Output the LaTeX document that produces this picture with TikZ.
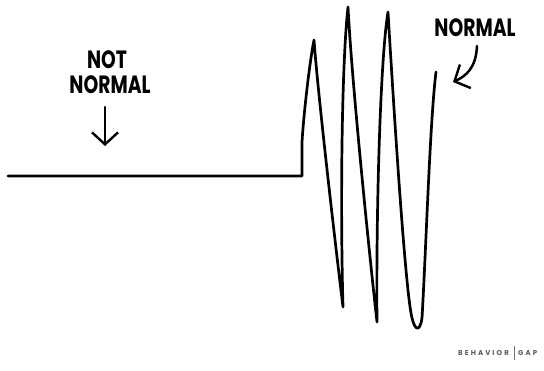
\documentclass[tikz,border=0pt]{standalone}
\usepackage{fontspec}
\setmainfont{Poppins}
\usetikzlibrary{arrows.meta}
\tikzset{
  ink/.style={line width=2.7pt, line cap=round, line join=round, black},
  hand/.style={font=\bfseries\fontsize{25}{25}\selectfont, inner sep=0pt, align=center},
  pen/.style={line width=2.5pt, line cap=round, line join=round, black,
    -{Straight Barb[length=12pt,width=26pt,line width=2.4pt]}},
  credit/.style={font=\bfseries\fontsize{7}{8}\selectfont\addfontfeature{LetterSpace=30}, text=black!65, inner sep=0pt}
}
\begin{document}
\begin{tikzpicture}[x=1pt,y=-1pt]
\useasboundingbox[fill=white] (0,0) rectangle (544,370);
% labels
\node[hand] (not) at (107,60) {\scalebox{0.75}[1]{NOT}};
\node[hand] (notnormal) at (110,85) {\scalebox{0.75}[1]{NORMAL}};
\coordinate (a1s) at (105,107);
\coordinate (a1e) at (105,146);
\draw[pen] (a1s) -- (a1e);
\node[hand] (normal) at (475,28) {\scalebox{0.75}[1]{NORMAL}};
\coordinate (a2s) at (477,46);
\coordinate (a2e) at (453,82);
\draw[pen] (a2s) .. controls (476,68) and (466,76) .. (a2e);
% signal
\coordinate (start) at (8,176);
\coordinate (corner) at (302,176);
\coordinate (endpt) at (436,72);
\draw[ink] (start) -- (corner) -- (302,142)
  .. controls (304,110) and (310,60) .. (314,40)
  .. controls (318,95) and (336,250) .. (343,307)
  .. controls (340,200) and (342,60) .. (348,7)
  .. controls (352,85) and (370,260) .. (377,322)
  .. controls (376,220) and (380,60) .. (388,12)
  .. controls (393,95) and (405,290) .. (412,318)
  .. controls (415,331) and (420,332) .. (422,318)
  .. controls (426,250) and (430,120) .. (endpt);
% credit
\node[credit, anchor=west] (brand) at (458,353) {BEHAVIOR};
\coordinate (bt) at (514,346);
\coordinate (bb) at (514,360);
\draw[black!55, line width=0.6pt] (bt) -- (bb);
\node[credit, anchor=west] (gap) at (518,353) {GAP};
\end{tikzpicture}
\end{document}
